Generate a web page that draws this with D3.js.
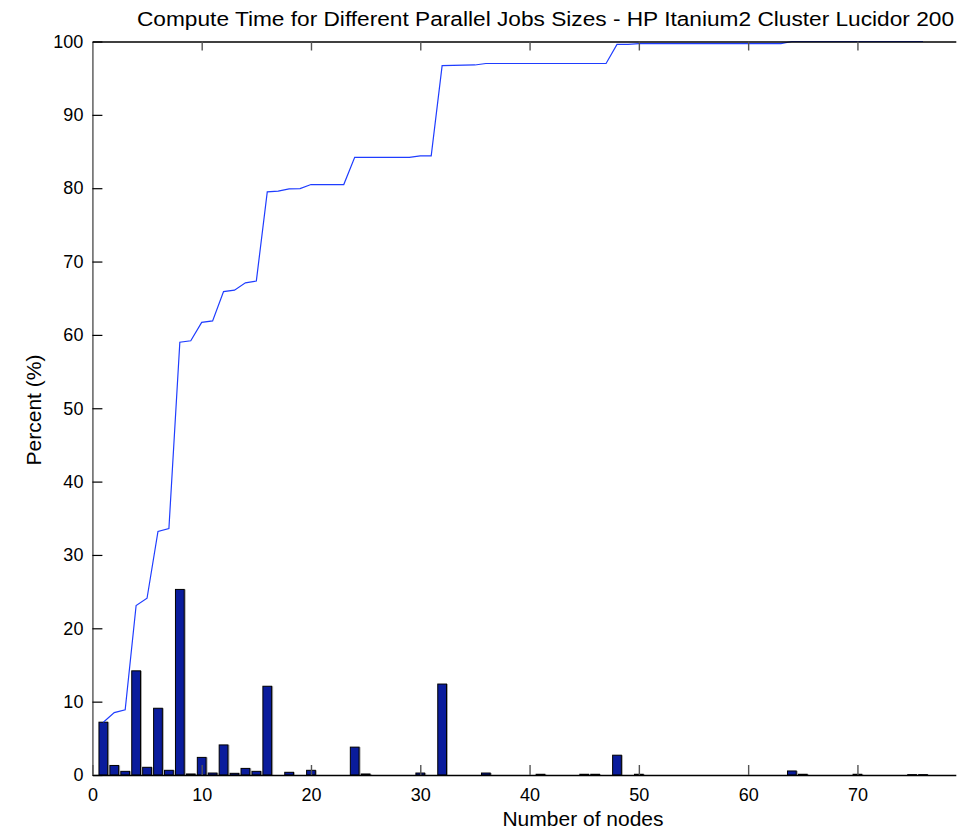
<!DOCTYPE html>
<html>
<head>
<meta charset="utf-8">
<script src="https://cdn.jsdelivr.net/npm/d3@7"></script>
<style>
  html, body { margin: 0; padding: 0; background: #fff; }
  svg { display: block; font-family: "Liberation Sans", Arial, Helvetica, sans-serif; }
</style>
</head>
<body>
<svg id="chart" width="970" height="832"></svg>
<script>
// ---- data ----
const titleText = "Compute Time for Different Parallel Jobs Sizes - HP Itanium2 Cluster Lucidor 200";
const xLabelText = "Number of nodes";
const yLabelText = "Percent (%)";

const barNodes  = [1,2,3,4,5,6,7,8,9,10,11,12,13,14,15,16,18,20,24,25,30,32,36,41,45,46,48,50,64,65,70,75,76];
const barPct    = [7.2,1.3,0.5,14.2,1.05,9.1,0.64,25.3,0.14,2.4,0.27,4.1,0.23,0.9,0.5,12.1,0.37,0.64,3.8,0.14,0.27,12.4,0.27,0.1,0.1,0.1,2.7,0.1,0.55,0.1,0.1,0.05,0.05];

const cumNodes  = [1,2,3,4,5,6,7,8,9,10,11,12,13,14,15,16,17,18,19,20,23,24,29,30,31,32,35,36,47,48,49,50,63,64,76];
const cumPct    = [7.2,8.5,8.9,23.1,24.1,33.2,33.6,59.0,59.2,61.7,61.9,65.9,66.1,67.1,67.35,79.5,79.6,79.9,79.95,80.5,80.5,84.2,84.2,84.4,84.4,96.7,96.8,97.0,97.0,99.6,99.6,99.7,99.7,100,100];

const xTicks = [0,10,20,30,40,50,60,70];
const yTicks = [0,10,20,30,40,50,60,70,80,90,100];

// ---- layout ----
const svg = d3.select("#chart");
const pLeft = 92.4, pRight = 955.8, pTop = 41.5, pBottom = 775;
const x = d3.scaleLinear().domain([0, 79]).range([pLeft, pRight]);
const y = d3.scaleLinear().domain([0, 100]).range([pBottom, pTop]);
const barW = 0.8;

svg.append("defs").append("clipPath").attr("id", "plotclip")
  .append("rect").attr("x", pLeft).attr("y", pTop - 1).attr("width", pRight - pLeft).attr("height", pBottom - pTop + 1);

// bars (shadow + bar)
const gBars = svg.append("g").attr("clip-path", "url(#plotclip)");
const bars = barNodes.map((n, i) => ({n, v: barPct[i]}));
gBars.selectAll("rect.shadow").data(bars).enter().append("rect")
  .attr("class", "shadow")
  .attr("x", d => x(d.n - barW / 2) + 1.5)
  .attr("y", d => y(d.v))
  .attr("width", d => x(barW) - x(0))
  .attr("height", d => y(0) - y(d.v))
  .attr("fill", "#a8a8a8");
gBars.selectAll("rect.bar").data(bars).enter().append("rect")
  .attr("class", "bar")
  .attr("x", d => x(d.n - barW / 2))
  .attr("y", d => y(d.v))
  .attr("width", d => x(barW) - x(0))
  .attr("height", d => y(0) - y(d.v))
  .attr("fill", "#0a1c9c")
  .attr("stroke", "#000")
  .attr("stroke-width", 1);

// cumulative line
const line = d3.line().x(d => x(d[0])).y(d => y(d[1]));
svg.append("path")
  .attr("clip-path", "url(#plotclip)")
  .datum(cumNodes.map((n, i) => [n, cumPct[i]]))
  .attr("d", line)
  .attr("fill", "none")
  .attr("stroke", "#1f3dff")
  .attr("stroke-width", 1.2);

// axes
const axL = svg.append("g").attr("transform", `translate(${pLeft},0)`)
  .call(d3.axisLeft(y).tickValues(yTicks).tickSizeInner(-10).tickSizeOuter(0).tickPadding(9));
axL.select(".domain").attr("stroke", "#6a6a6a").attr("stroke-width", 1.6);
axL.selectAll(".tick line").attr("stroke", "#000").attr("stroke-width", 1.2);
axL.selectAll(".tick text").attr("font-size", 18).attr("fill", "#000")
  .attr("font-family", "Liberation Sans, Arial, sans-serif");

const axB = svg.append("g").attr("transform", `translate(0,${pBottom})`)
  .call(d3.axisBottom(x).tickValues(xTicks).tickSizeInner(-10).tickSizeOuter(0).tickPadding(13));
axB.select(".domain").attr("stroke", "#000").attr("stroke-width", 1.6);
axB.selectAll(".tick line").attr("stroke", "#555").attr("stroke-width", 1.4);
axB.selectAll(".tick text").attr("font-size", 18).attr("fill", "#000")
  .attr("font-family", "Liberation Sans, Arial, sans-serif");

const axT = svg.append("g").attr("transform", `translate(0,${pTop})`)
  .call(d3.axisTop(x).tickValues(xTicks.slice(1)).tickSizeInner(-9).tickSizeOuter(0).tickFormat(""));
axT.select(".domain").attr("stroke", "#000").attr("stroke-width", 1.6);
axT.selectAll(".tick line").attr("stroke", "#555").attr("stroke-width", 1.4);

// title
svg.append("text")
  .attr("x", 137).attr("y", 26)
  .attr("font-size", 20)
  .attr("textLength", 817).attr("lengthAdjust", "spacingAndGlyphs")
  .attr("fill", "#000")
  .text(titleText);

// axis labels
svg.append("text")
  .attr("x", 583).attr("y", 826)
  .attr("text-anchor", "middle")
  .attr("font-size", 21)
  .attr("fill", "#000")
  .text(xLabelText);

svg.append("text")
  .attr("transform", "translate(41,410) rotate(-90)")
  .attr("text-anchor", "middle")
  .attr("font-size", 21)
  .attr("fill", "#000")
  .text(yLabelText);
</script>
</body>
</html>
